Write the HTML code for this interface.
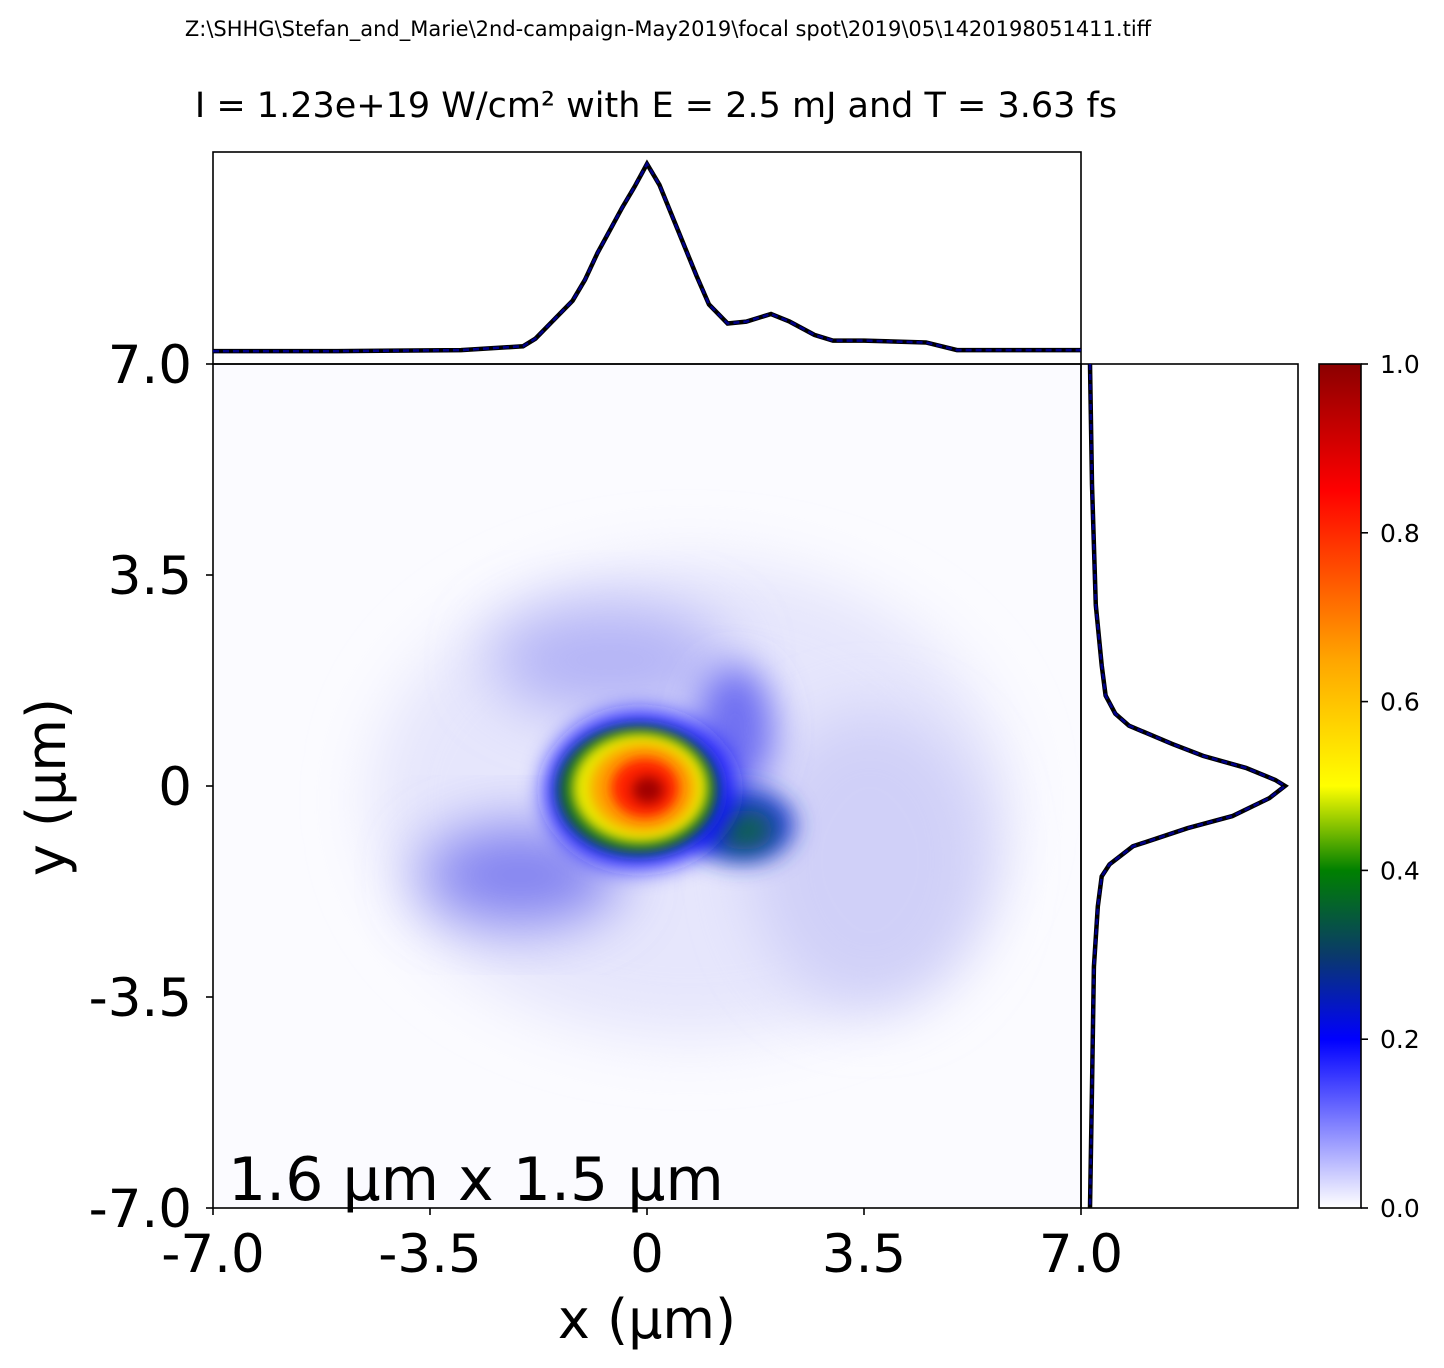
<!DOCTYPE html>
<html><head><meta charset="utf-8">
<style>
body{margin:0;background:#fff;}
svg{display:block;font-family:"DejaVu Sans","Liberation Sans",sans-serif;}
</style></head>
<body>
<svg id="fig" width="1444" height="1368" viewBox="0 0 1444 1368">
<defs>
<linearGradient id="cmap" x1="0" y1="1" x2="0" y2="0">
<stop offset="0" stop-color="#ffffff"/>
<stop offset="0.2" stop-color="#0000ff"/>
<stop offset="0.3" stop-color="#0a3a6a"/>
<stop offset="0.4" stop-color="#008000"/>
<stop offset="0.5" stop-color="#ffff00"/>
<stop offset="0.65" stop-color="#ffa500"/>
<stop offset="0.85" stop-color="#ff0000"/>
<stop offset="1" stop-color="#8b0000"/>
</linearGradient>
<filter id="b30" x="-50%" y="-50%" width="200%" height="200%"><feGaussianBlur stdDeviation="30"/></filter>
<filter id="b18" x="-50%" y="-50%" width="200%" height="200%"><feGaussianBlur stdDeviation="18"/></filter>
<filter id="b12" x="-50%" y="-50%" width="200%" height="200%"><feGaussianBlur stdDeviation="12"/></filter>
<filter id="b6" x="-50%" y="-50%" width="200%" height="200%"><feGaussianBlur stdDeviation="6"/></filter>
<clipPath id="clipMain"><rect x="213" y="364" width="868" height="844"/></clipPath>
</defs>

<text x="668" y="36" font-size="21" text-anchor="middle">Z:\SHHG\Stefan_and_Marie\2nd-campaign-May2019\focal spot\2019\05\1420198051411.tiff</text>
<text x="656" y="117" font-size="35" text-anchor="middle">I = 1.23e+19 W/cm² with E = 2.5 mJ and T = 3.63 fs</text>

<g clip-path="url(#clipMain)">
<rect x="213" y="364" width="868" height="844" fill="#fbfbff"/>
<ellipse cx="690" cy="800" rx="320" ry="240" fill="#e6e6fc" filter="url(#b30)"/>
<ellipse cx="870" cy="860" rx="120" ry="150" fill="#d0d0f8" filter="url(#b30)"/>
<ellipse cx="610" cy="660" rx="120" ry="55" fill="#b4b4f6" filter="url(#b30)"/>
<ellipse cx="520" cy="875" rx="100" ry="50" fill="#8080f0" filter="url(#b30)"/>
<ellipse cx="735" cy="730" rx="40" ry="65" fill="#7070f2" filter="url(#b18)"/>
<ellipse cx="740" cy="825" rx="55" ry="38" fill="#2040d0" filter="url(#b12)"/>
<ellipse cx="745" cy="830" rx="28" ry="20" fill="#106050" filter="url(#b12)"/>
<ellipse cx="640" cy="790" rx="95" ry="78" fill="#1515ff" filter="url(#b12)"/>
<ellipse cx="638" cy="790" rx="80" ry="64" fill="#0a6a20" filter="url(#b6)"/>
<ellipse cx="640" cy="788" rx="68" ry="55" fill="#e8e800" filter="url(#b6)"/>
<ellipse cx="643" cy="788" rx="52" ry="44" fill="#ffa000" filter="url(#b6)"/>
<ellipse cx="645" cy="788" rx="34" ry="30" fill="#ff2000" filter="url(#b6)"/>
<ellipse cx="648" cy="790" rx="16" ry="14" fill="#a00000" filter="url(#b6)"/>
</g>
<rect x="213" y="364" width="868" height="844" fill="none" stroke="#000" stroke-width="1.6"/>
<text x="228" y="1200" font-size="60">1.6 µm x 1.5 µm</text>

<rect x="213" y="152" width="868" height="212" fill="none" stroke="#000" stroke-width="1.6"/>
<rect x="1081" y="364" width="217" height="844" fill="none" stroke="#000" stroke-width="1.6"/>

<g id="ticks" font-size="53"></g>

<text x="647" y="1338" font-size="54" text-anchor="middle">x (µm)</text>
<text transform="translate(65,787) rotate(-90)" font-size="54" text-anchor="middle">y (µm)</text>

<rect x="1319" y="364" width="42" height="844" fill="url(#cmap)" stroke="#000" stroke-width="1.6"/>
<g id="cbticks" font-size="25"></g>

<path id="topLine" fill="none" stroke="#000" stroke-width="4.5"/>
<path id="topLine2" fill="none" stroke="#00008b" stroke-width="2.5" stroke-dasharray="6 4"/>
<path id="rightLine" fill="none" stroke="#000" stroke-width="4.5"/>
<path id="rightLine2" fill="none" stroke="#00008b" stroke-width="2.5" stroke-dasharray="6 4"/>
</svg>
<script>
const xTickVals=[-7,-3.5,0,3.5,7];
const xTickLabels=["-7.0","-3.5","0","3.5","7.0"];
const yTickVals=[-7,-3.5,0,3.5,7];
const yTickLabels=["-7.0","-3.5","0","3.5","7.0"];
const cbTickVals=[0,0.2,0.4,0.6,0.8,1.0];
const cbTickLabels=["0.0","0.2","0.4","0.6","0.8","1.0"];
const topX=[-7,-5,-3,-2,-1.8,-1.5,-1.2,-1,-0.8,-0.6,-0.4,-0.2,-0.1,0,0.2,0.5,0.8,1,1.3,1.6,2,2.3,2.7,3,3.5,4.5,5,6,7];
const topV=[0.005,0.005,0.01,0.03,0.07,0.17,0.27,0.38,0.52,0.64,0.76,0.87,0.93,0.99,0.88,0.64,0.4,0.25,0.15,0.16,0.2,0.16,0.09,0.06,0.06,0.05,0.01,0.01,0.01];
const rightY=[7,5,3,2,1.5,1.2,1,0.7,0.5,0.3,0.1,0,-0.2,-0.5,-0.7,-1,-1.3,-1.5,-2,-3,-5,-7];
const rightV=[0.0,0.01,0.03,0.06,0.08,0.13,0.2,0.42,0.58,0.8,0.95,1.0,0.92,0.73,0.5,0.22,0.1,0.06,0.04,0.02,0.01,0.0];
const NS="http://www.w3.org/2000/svg";
const xs=v=>213+(v+7)/14*868;
const ys=v=>1208-(v+7)/14*844;
const topY=v=>352-v*190;
const rightXs=v=>1090+v*195;
const cbY=v=>1208-v*844;
const tk=document.getElementById('ticks');
function add(parent,tag,attrs,text){const e=document.createElementNS(NS,tag);for(const k in attrs)e.setAttribute(k,attrs[k]);if(text!==undefined)e.textContent=text;parent.appendChild(e);return e;}
xTickVals.forEach((v,i)=>{
  const l=add(tk,'line',{x1:xs(v),x2:xs(v),y1:1208,y2:1215,stroke:'#000','stroke-width':1.6});
  
  
  const t=add(tk,'text',{x:xs(v),y:1272,'text-anchor':'middle'},xTickLabels[i]);
  
  
});
yTickVals.forEach((v,i)=>{
  const l=add(tk,'line',{x1:206,x2:213,y1:ys(v),y2:ys(v),stroke:'#000','stroke-width':1.6});
  
  
  const t=add(tk,'text',{x:192,y:ys(v)+19,'text-anchor':'end'},yTickLabels[i]);
  
  
});
const cb=document.getElementById('cbticks');
cbTickVals.forEach((v,i)=>{
  const l=add(cb,'line',{x1:1361,x2:1368,y1:cbY(v),y2:cbY(v),stroke:'#000','stroke-width':1.6});
  
  
  const t=add(cb,'text',{x:1380,y:cbY(v)+9},cbTickLabels[i]);
  
  
});
const tp=topX.map((x,i)=>(i?'L':'M')+xs(x).toFixed(1)+','+topY(topV[i]).toFixed(1)).join('');
document.getElementById('topLine').setAttribute('d',tp);
document.getElementById('topLine2').setAttribute('d',tp);
const rp=rightY.map((y,i)=>(i?'L':'M')+rightXs(rightV[i]).toFixed(1)+','+ys(y).toFixed(1)).join('');
document.getElementById('rightLine').setAttribute('d',rp);
document.getElementById('rightLine2').setAttribute('d',rp);
</script>
</body></html>
